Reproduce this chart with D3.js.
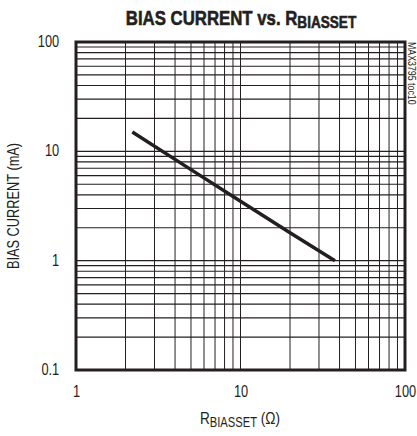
<!DOCTYPE html>
<html>
<head>
<meta charset="utf-8">
<script src="https://cdn.jsdelivr.net/npm/d3@7"></script>
<style>
  body { margin: 0; background: #fff; }
  text { font-family: "Liberation Sans", Arial, sans-serif; fill: #231f20; }
</style>
</head>
<body>
<div id="vis"></div>
<script>
const resistance = [2.2, 5, 10, 20, 37.5];
const biasCurrent = [15, 6.8, 3.5, 1.8, 1.0];
const xTicks = [1, 10, 100];
const yTicks = [0.1, 1, 10, 100];

const FRAME_WIDTH = 417;
const FRAME_HEIGHT = 436;
const MARGINS = {left: 76, right: 12, top: 42, bottom: 66};
const VIS_WIDTH = FRAME_WIDTH - MARGINS.left - MARGINS.right;
const VIS_HEIGHT = FRAME_HEIGHT - MARGINS.top - MARGINS.bottom;
const NARROW = 0.8;

const svg = d3.select('#vis')
  .append('svg')
  .attr('width', FRAME_WIDTH)
  .attr('height', FRAME_HEIGHT);

const X_SCALE = d3.scaleLog().domain([1, 100]).range([0, VIS_WIDTH]);
const Y_SCALE = d3.scaleLog().domain([0.1, 100]).range([VIS_HEIGHT, 0]);

const plot = svg.append('g')
  .attr('transform', 'translate(' + MARGINS.left + ',' + MARGINS.top + ')');

// grid lines, every integer step of each decade
plot.selectAll('.vgrid')
  .data(X_SCALE.ticks())
  .enter()
  .append('line')
    .attr('x1', d => X_SCALE(d))
    .attr('x2', d => X_SCALE(d))
    .attr('y1', 0)
    .attr('y2', VIS_HEIGHT)
    .attr('stroke', '#231f20')
    .attr('stroke-width', 1);

plot.selectAll('.hgrid')
  .data(Y_SCALE.ticks())
  .enter()
  .append('line')
    .attr('x1', 0)
    .attr('x2', VIS_WIDTH)
    .attr('y1', d => Y_SCALE(d))
    .attr('y2', d => Y_SCALE(d))
    .attr('stroke', '#231f20')
    .attr('stroke-width', 1.2);

// border
plot.append('rect')
  .attr('width', VIS_WIDTH)
  .attr('height', VIS_HEIGHT)
  .attr('fill', 'none')
  .attr('stroke', '#231f20')
  .attr('stroke-width', 3);

// data line
const line = d3.line()
  .x((d, i) => X_SCALE(resistance[i]))
  .y(d => Y_SCALE(d));

plot.append('path')
  .datum(biasCurrent)
  .attr('d', line)
  .attr('fill', 'none')
  .attr('stroke', '#231f20')
  .attr('stroke-width', 3.5);

// tick labels, squeezed to look like a narrow face
const xAxis = plot.append('g')
  .attr('transform', 'translate(0,' + VIS_HEIGHT + ')')
  .call(d3.axisBottom(X_SCALE).tickValues(xTicks).tickFormat(d3.format('')).tickSize(0).tickPadding(16));
xAxis.select('.domain').remove();
xAxis.selectAll('text')
  .attr('font-size', 16).attr('font-family', null)
  .attr('transform', 'scale(' + NARROW + ',1)');

const yAxis = plot.append('g')
  .call(d3.axisLeft(Y_SCALE).tickValues(yTicks).tickFormat(d3.format('')).tickSize(0).tickPadding(21));
yAxis.select('.domain').remove();
yAxis.selectAll('text')
  .attr('font-size', 16).attr('font-family', null).attr('dy', '0.28em')
  .attr('transform', 'scale(' + NARROW + ',1)');

// title
const title = svg.append('text')
  .attr('transform', 'translate(241,25) scale(0.8,1)')
  .attr('text-anchor', 'middle')
  .attr('font-weight', 'bold')
  .attr('font-size', 21)
  .attr('stroke', '#231f20')
  .attr('stroke-width', 0.6);
title.append('tspan').text('BIAS CURRENT vs. R');
title.append('tspan').attr('font-size', 17).attr('dy', 3).text('BIASSET');

// x label
const xl = svg.append('text')
  .attr('transform', 'translate(240,424) scale(' + NARROW + ',1)')
  .attr('text-anchor', 'middle')
  .attr('font-size', 17);
xl.append('tspan').text('R');
xl.append('tspan').attr('font-size', 14).attr('dy', 3).text('BIASSET');
xl.append('tspan').attr('dy', -3).text(' (Ω)');

// y label
svg.append('text')
  .attr('transform', 'translate(19,' + (MARGINS.top + VIS_HEIGHT / 2) + ') rotate(-90) scale(' + NARROW + ',1)')
  .attr('text-anchor', 'middle')
  .attr('font-size', 16)
  .text('BIAS CURRENT (mA)');

// side code
svg.append('text')
  .attr('transform', 'translate(408,42) rotate(90) scale(' + NARROW + ',1)')
  .attr('font-size', 11)
  .text('MAX3795 toc10');
</script>
</body>
</html>
